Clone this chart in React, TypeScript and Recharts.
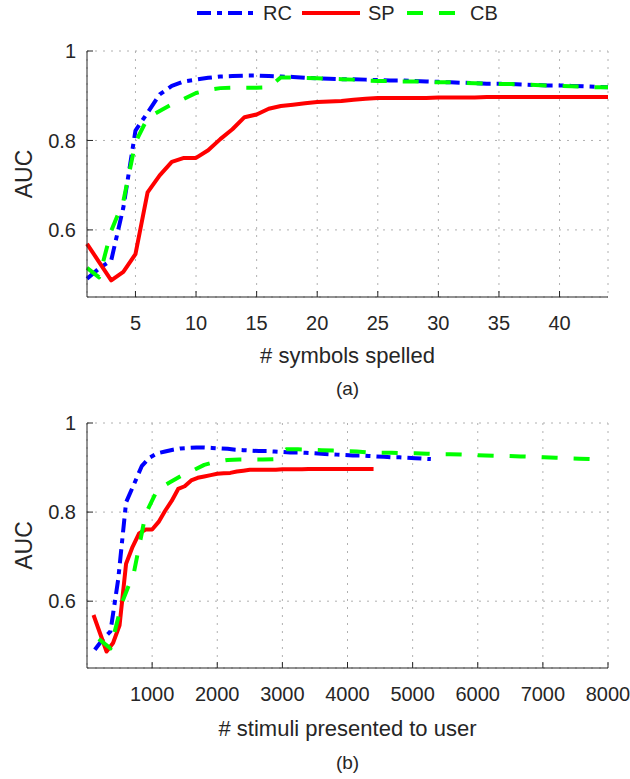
import { LineChart, Line, XAxis, YAxis, CartesianGrid, Label } from "recharts";

// number of symbols spelled (x of panel a)
const symbols = [
  1, 2, 3, 4, 5, 6, 7, 8, 9, 10, 11, 12, 13, 14, 15, 16, 17, 18, 19, 20, 21, 22,
  23, 24, 25, 26, 27, 28, 29, 30, 31, 32, 33, 34, 35, 36, 37, 38, 39, 40, 41, 42, 43, 44,
];

// AUC per method
const rcAuc = [
  0.491, 0.514, 0.532, 0.65, 0.822, 0.862, 0.903, 0.922, 0.932, 0.936, 0.94, 0.943, 0.944, 0.945,
  0.945, 0.944, 0.943, 0.942, 0.94, 0.939, 0.938, 0.937, 0.937, 0.936, 0.935, 0.934, 0.934, 0.933,
  0.932, 0.931, 0.93, 0.929, 0.928, 0.927, 0.927, 0.926, 0.925, 0.924, 0.923, 0.923, 0.922, 0.921,
  0.92, 0.919,
];
const spAuc = [
  0.569, 0.528, 0.487, 0.506, 0.546, 0.684, 0.722, 0.752, 0.761, 0.761, 0.778, 0.803, 0.825, 0.852,
  0.858, 0.871, 0.877, 0.88, 0.883, 0.886, 0.887, 0.888, 0.891, 0.893, 0.895, 0.895, 0.895, 0.895,
  0.895, 0.896, 0.896, 0.896, 0.896, 0.897, 0.897, 0.897, 0.897, 0.897, 0.897, 0.897, 0.897, 0.897,
  0.897, 0.897,
];
const cbAuc = [
  0.515, 0.494, 0.598, 0.664, 0.796, 0.85, 0.866, 0.881, 0.893, 0.906, 0.913, 0.917, 0.918, 0.918,
  0.918, 0.919, 0.941, 0.941, 0.94, 0.939, 0.938, 0.937, 0.936, 0.934, 0.933, 0.933, 0.932, 0.932,
  0.931, 0.93, 0.93, 0.929, 0.928, 0.927, 0.926, 0.926, 0.925, 0.924, 0.923, 0.922, 0.921, 0.92,
  0.919, 0.919,
];

// stimuli flashed per spelled symbol for each paradigm (x of panel b)
const rcStimuliPerSymbol = 120;
const spStimuliPerSymbol = 100;
const cbStimuliPerSymbol = 180;

const symbolTicks = [5, 10, 15, 20, 25, 30, 35, 40];
const stimuliTicks = [1000, 2000, 3000, 4000, 5000, 6000, 7000, 8000];
const aucTicks = [0.6, 0.8, 1];

const INK = "#262626";
const FONT = "'Liberation Sans', Arial, sans-serif";

const series = [
  { key: "RC", values: rcAuc, perSymbol: rcStimuliPerSymbol, color: "#0000ff", dash: "14 6 5 6" },
  { key: "SP", values: spAuc, perSymbol: spStimuliPerSymbol, color: "#ff0000", dash: undefined },
  { key: "CB", values: cbAuc, perSymbol: cbStimuliPerSymbol, color: "#00ff00", dash: "16 16" },
];

const symbolRows = symbols.map((n, i) => ({
  n,
  RC: rcAuc[i],
  SP: spAuc[i],
  CB: cbAuc[i],
}));

const stimuliData = series.map((s) => symbols.map((n, i) => ({ x: n * s.perSymbol, y: s.values[i] })));

// axis title centred under the plot, measured from the bottom of the axis area
const bottomText = (text: string, fromBottom: number, size: number) => (props: any) => {
  const vb = props.viewBox;
  return (
    <text x={vb.x + vb.width / 2} y={vb.y + vb.height - fromBottom} textAnchor="middle" fontSize={size} fill={INK}>
      {text}
    </text>
  );
};

const aucTitle = (props: any) => {
  const vb = props.viewBox;
  const cx = 24;
  const cy = vb.y + vb.height / 2;
  return (
    <text
      x={cx}
      y={cy}
      textAnchor="middle"
      dominantBaseline="central"
      fontSize={23}
      fill={INK}
      transform={`rotate(-90, ${cx}, ${cy})`}
    >
      AUC
    </text>
  );
};

const tickStyle = { fill: INK, fontSize: 20 };

function LegendRow() {
  const items = [
    { s: series[0], x: 197, tx: 263 },
    { s: series[1], x: 302, tx: 368 },
    { s: series[2], x: 407, tx: 470 },
  ];
  return (
    <svg width={630} height={30} style={{ position: "absolute", left: 0, top: 0 }}>
      {items.map(({ s, x, tx }) => (
        <g key={s.key}>
          <line x1={x} x2={x + 58} y1={13} y2={13} stroke={s.color} strokeWidth={4} strokeDasharray={s.dash} />
          <text x={tx} y={20} fontSize={20} fill={INK}>
            {s.key}
          </text>
        </g>
      ))}
    </svg>
  );
}

export default function App() {
  return (
    <div
      style={{
        position: "absolute",
        left: 0,
        top: 0,
        width: 630,
        height: 779,
        background: "#fff",
        fontFamily: FONT,
      }}
    >
      <LegendRow />

      {/* (a) AUC vs symbols spelled */}
      <div style={{ position: "absolute", left: 0, top: 0 }}>
        <LineChart width={630} height={400} data={symbolRows} margin={{ top: 51, right: 22, left: 0, bottom: 0 }}>
          <CartesianGrid stroke="#b0b0b0" strokeDasharray="2 6" />
          <XAxis
            dataKey="n"
            type="number"
            domain={[1, 44]}
            ticks={symbolTicks}
            height={103}
            stroke={INK}
            tickSize={-6}
            tickMargin={25}
            tick={tickStyle}
          >
            <Label content={bottomText("# symbols spelled", 37, 22)} />
            <Label content={bottomText("(a)", 5, 19)} />
          </XAxis>
          <YAxis
            type="number"
            domain={[0.45, 1]}
            ticks={aucTicks}
            width={87}
            stroke={INK}
            tickSize={-6}
            tickMargin={17}
            tick={tickStyle}
          >
            <Label content={aucTitle} />
          </YAxis>
          {series.map((s) => (
            <Line
              key={s.key}
              dataKey={s.key}
              type="linear"
              stroke={s.color}
              strokeWidth={4}
              strokeDasharray={s.dash}
              strokeLinejoin="round"
              dot={false}
              isAnimationActive={false}
            />
          ))}
        </LineChart>
      </div>

      {/* (b) AUC vs stimuli presented */}
      <div style={{ position: "absolute", left: 0, top: 372 }}>
        <LineChart width={630} height={407} margin={{ top: 51, right: 22, left: 0, bottom: 0 }}>
          <CartesianGrid stroke="#b0b0b0" strokeDasharray="2 6" />
          <XAxis
            dataKey="x"
            type="number"
            domain={[0, 8000]}
            ticks={stimuliTicks}
            height={111}
            stroke={INK}
            tickSize={-6}
            tickMargin={25}
            tick={tickStyle}
          >
            <Label content={bottomText("# stimuli presented to user", 43, 22)} />
            <Label content={bottomText("(b)", 10, 19)} />
          </XAxis>
          <YAxis
            type="number"
            domain={[0.45, 1]}
            ticks={aucTicks}
            width={87}
            stroke={INK}
            tickSize={-6}
            tickMargin={17}
            tick={tickStyle}
          >
            <Label content={aucTitle} />
          </YAxis>
          {series.map((s, i) => (
            <Line
              key={s.key}
              data={stimuliData[i]}
              dataKey="y"
              type="linear"
              stroke={s.color}
              strokeWidth={4}
              strokeDasharray={s.dash}
              strokeLinejoin="round"
              dot={false}
              isAnimationActive={false}
            />
          ))}
        </LineChart>
      </div>
    </div>
  );
}
